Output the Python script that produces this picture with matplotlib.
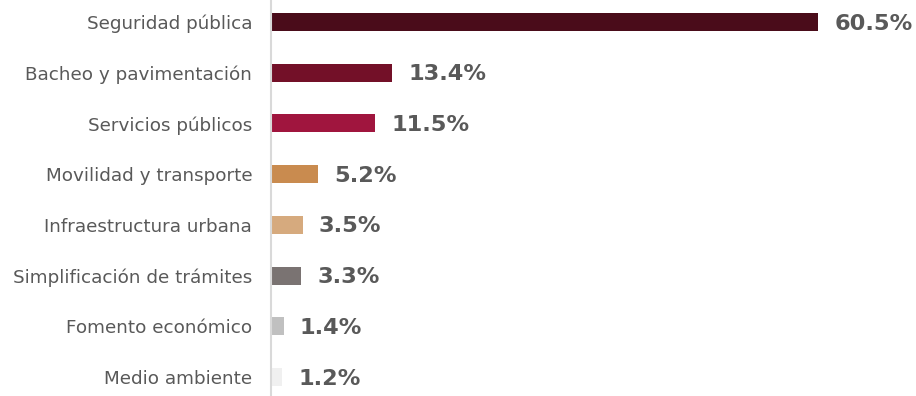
import numpy as np
from matplotlib import pyplot as plt

plt.rcParams['font.family'] = ['DejaVu Sans']

categorias = ['Seguridad pública', 'Bacheo y pavimentación', 'Servicios públicos',
              'Movilidad y transporte', 'Infraestructura urbana',
              'Simplificación de trámites', 'Fomento económico', 'Medio ambiente']
porcentajes = [60.5, 13.4, 11.5, 5.2, 3.5, 3.3, 1.4, 1.2]
colores = ['#4a0c1a', '#731028', '#a0153e', '#c98b4f', '#d6aa7e',
           '#7a7372', '#c0c0c0', '#f0f0f0']

fig = plt.figure(figsize=(9.16, 3.96), dpi=100)
ax = fig.add_axes([271 / 916, 0, 645 / 916, 1])

y = np.arange(len(categorias))
ax.barh(y, porcentajes, height=0.355, color=colores)

# etiquetas de valor a la derecha de cada barra
for yi, v in zip(y, porcentajes):
    ax.text(v + 1.8, yi + 0.03, f'{v:.1f}%', va='center', ha='left',
            fontsize=16.2, fontweight='bold', color='#595959')

ax.set_xlim(0, 71.3)
ax.set_ylim(7.375, -0.434)
ax.set_yticks(y)
ax.set_yticklabels(categorias, fontsize=13.2, color='#595959')
ax.tick_params(axis='y', length=0, pad=13.5)
ax.set_xticks([])

for s in ['top', 'right', 'bottom']:
    ax.spines[s].set_visible(False)
ax.spines['left'].set_color('#d9d9d9')
ax.spines['left'].set_linewidth(1.5)

fig.savefig('out.png', dpi=100)
